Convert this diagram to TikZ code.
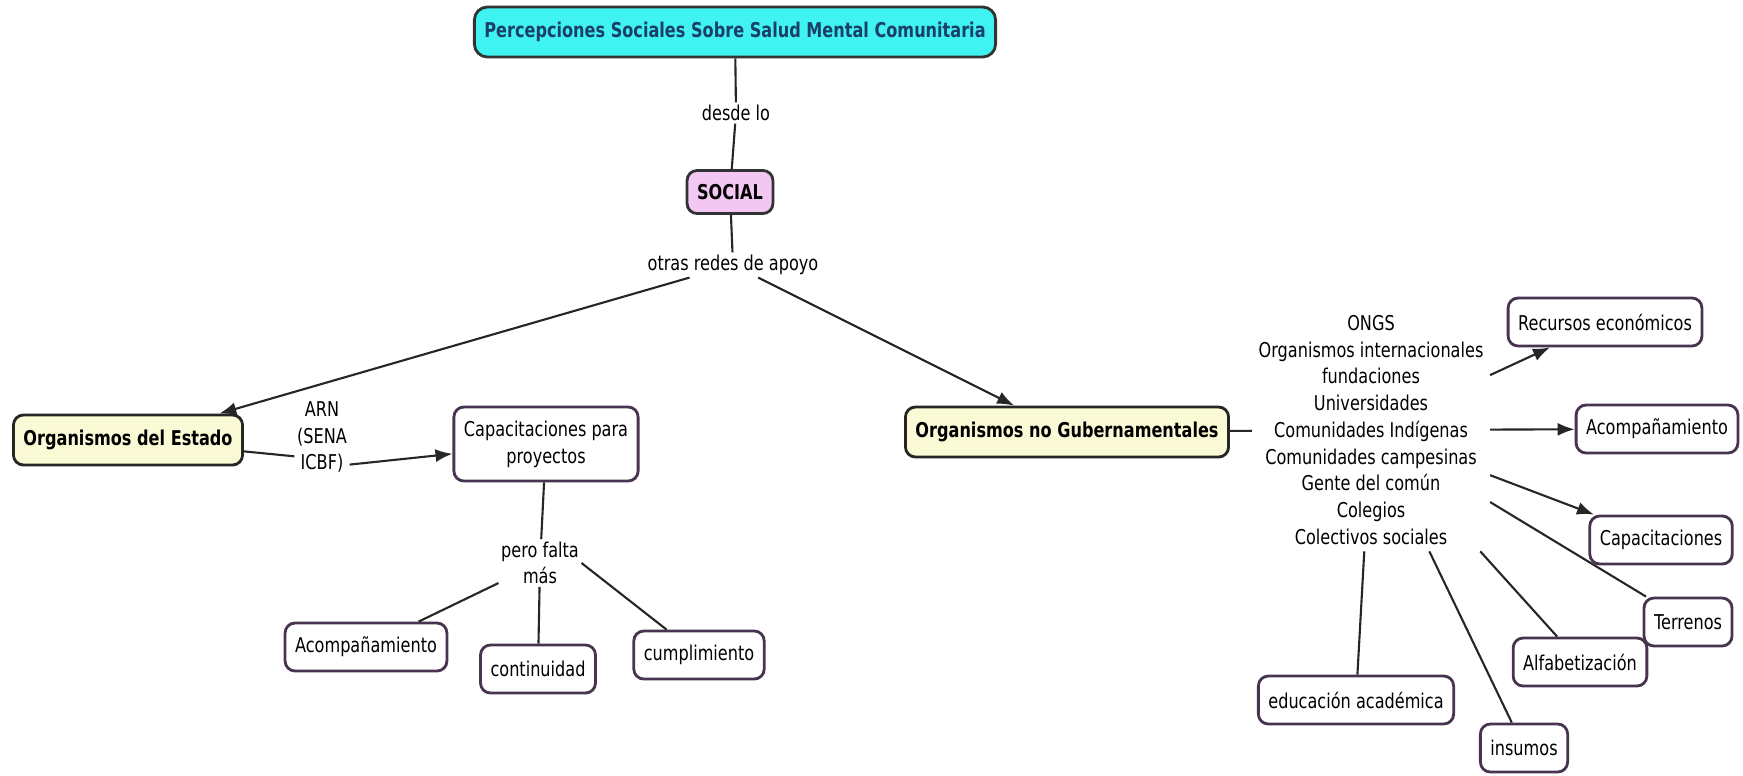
\documentclass[tikz,border=0pt]{standalone}
\usepackage{fontspec}
\setmainfont[FakeStretch=0.79]{DejaVu Sans}
\usepackage{tikz}
\usetikzlibrary{arrows.meta}
\definecolor{rootFill}{RGB}{64,242,242}
\definecolor{rootText}{RGB}{24,64,104}
\definecolor{socialFill}{RGB}{242,200,242}
\definecolor{orgFill}{RGB}{250,250,214}
\definecolor{borderColor}{RGB}{72,52,78}
\newcommand{\mapFont}{\fontsize{5.8}{7.6}\selectfont}
\tikzstyle{mapa} = [x = 0.01cm, y = -0.01cm]
\tikzstyle{conceptStyle} = [draw=borderColor, fill=white, rounded corners = .1cm, line width = .8pt, inner xsep = .1cm, inner ysep = .08cm, minimum height = .48cm, align = center, font = \mapFont]
\tikzstyle{rootStyle} = [conceptStyle, draw=black!80, fill=rootFill, text=rootText, rounded corners = .13cm, minimum height = .5cm, font = \mapFont\bfseries]
\tikzstyle{socialStyle} = [conceptStyle, draw=black!80, fill=socialFill, minimum height = .43cm, font = \mapFont\bfseries]
\tikzstyle{orgStyle} = [conceptStyle, draw=black!85, fill=orgFill, minimum height = .5cm, font = \mapFont\bfseries]
\tikzstyle{linkText} = [inner sep = .02cm, align = center, font = \mapFont]
\tikzstyle{linkLine} = [draw=black!85, line width = .6pt]
\tikzstyle{arrowLine} = [linkLine, -{Latex[length = .17cm, width = .13cm]}]
\newcommand{\conceptNode}[4]{\node [conceptStyle] (#1) at (#2, #3) {#4};}
\newcommand{\linkNode}[4]{\node [linkText] (#1) at (#2, #3) {#4};}
\newcommand{\plainLink}[2]{\draw [linkLine] (#1) -- (#2);}
\newcommand{\arrowLink}[2]{\draw [arrowLine] (#1) -- (#2);}
\begin{document}
\begin{tikzpicture}[mapa]
  \useasboundingbox (0, 0) rectangle (1743, 775);

  % conceptos
  \node [rootStyle] (titulo) at (735, 32) {Percepciones Sociales Sobre Salud Mental Comunitaria};
  \node [socialStyle] (social) at (730, 192) {SOCIAL};
  \node [orgStyle] (estado) at (128, 440) {Organismos del Estado};
  \node [orgStyle] (noGub) at (1067, 432) {Organismos no Gubernamentales};
  \node [conceptStyle, minimum height = .74cm] (capProyectos) at (546, 444) {Capacitaciones para\\proyectos};
  \conceptNode{acompEstado}{366}{647}{Acompañamiento}
  \conceptNode{continuidad}{538}{669}{continuidad}
  \conceptNode{cumplimiento}{699}{655}{cumplimiento}
  \conceptNode{recursos}{1605}{322}{Recursos económicos}
  \conceptNode{acompOng}{1657}{429}{Acompañamiento}
  \conceptNode{capacitaciones}{1661}{540}{Capacitaciones}
  \conceptNode{terrenos}{1688}{622}{Terrenos}
  \conceptNode{alfabetizacion}{1580}{662}{Alfabetización}
  \conceptNode{educacion}{1356}{700}{educación académica}
  \conceptNode{insumos}{1524}{748}{insumos}

  % frases de enlace
  \linkNode{desdeLo}{736}{113}{desde lo}
  \linkNode{otrasRedes}{733}{265}{otras redes de apoyo}
  \linkNode{arn}{322}{437}{ARN\\(SENA\\ICBF)}
  \linkNode{peroFalta}{540}{563}{pero falta\\más}
  \node [linkText, inner sep = .06cm] (listaOrg) at (1371, 430) {ONGS\\Organismos internacionales\\fundaciones\\Universidades\\Comunidades Indígenas\\Comunidades campesinas\\Gente del común\\Colegios\\Colectivos sociales};

  % conectores
  \plainLink{titulo}{desdeLo}
  \plainLink{desdeLo}{social}
  \plainLink{social}{otrasRedes}
  \arrowLink{otrasRedes}{estado}
  \arrowLink{otrasRedes}{noGub}
  \plainLink{estado}{arn.215}
  \arrowLink{arn.-45}{capProyectos}
  \plainLink{capProyectos}{peroFalta}
  \plainLink{peroFalta}{acompEstado}
  \plainLink{peroFalta}{continuidad}
  \plainLink{peroFalta.east}{cumplimiento}
  \plainLink{noGub}{listaOrg}
  \arrowLink{listaOrg}{recursos}
  \arrowLink{listaOrg}{acompOng}
  \arrowLink{listaOrg}{capacitaciones}
  \plainLink{listaOrg}{terrenos}
  \plainLink{listaOrg}{alfabetizacion}
  \plainLink{listaOrg}{insumos}
  \plainLink{listaOrg}{educacion}
\end{tikzpicture}
\end{document}
